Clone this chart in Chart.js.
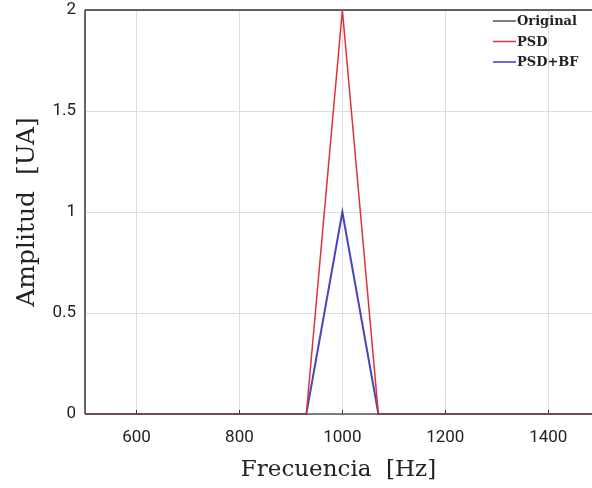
<!DOCTYPE html>
<html>
<head>
<meta charset="utf-8">
<script src="https://cdn.jsdelivr.net/npm/chart.js@4"></script>
<style>
  html, body { margin: 0; padding: 0; background: #fff; }
  #wrap { width: 592px; height: 488px; }
</style>
</head>
<body>
<div id="wrap"><canvas id="chart" width="592" height="488"></canvas></div>
<script>
// frecuencias (Hz) y amplitudes
const freqs     = [500, 930, 1000, 1070, 1485];
const original  = [0, 0, 0, 0, 0];
const psd       = [0, 0, 2, 0, 0];
const psdBf     = [0, 0, 1, 0, 0];
const xTicks    = [600, 800, 1000, 1200, 1400];
const yTicks    = [0, 0.5, 1, 1.5, 2];
const names     = ['Original', 'PSD', 'PSD+BF'];

const toPts = (ys) => freqs.map((f, i) => ({x: f, y: ys[i]}));

// leyenda dentro del area, arriba a la derecha
const innerLegend = {
    id: 'innerLegend',
    afterDraw: (chart) => {
        const {ctx} = chart;
        ctx.save();
        ctx.font = 'bold 13px "DejaVu Serif"';
        ctx.textBaseline = 'middle';
        chart.data.datasets.forEach((ds, i) => {
            const y = 21 + i * 20.5;
            ctx.strokeStyle = ds.legendColor;
            ctx.lineWidth = 1.5;
            ctx.beginPath();
            ctx.moveTo(493, y);
            ctx.lineTo(516, y);
            ctx.stroke();
            ctx.fillStyle = '#222';
            ctx.fillText(ds.label, 517, y + 1);
        });
        ctx.restore();
    }
};

// borde superior y marcas internas
const frame = {
    id: 'frame',
    beforeDatasetsDraw: (chart) => {
        const {ctx, chartArea: {top, bottom, left, right}, scales: {x}} = chart;
        ctx.save();
        ctx.strokeStyle = '#333';
        ctx.lineWidth = 1.5;
        ctx.beginPath();
        ctx.moveTo(left, top);
        ctx.lineTo(right, top);
        ctx.moveTo(left, top);
        ctx.lineTo(left, bottom);
        ctx.stroke();
        ctx.lineWidth = 1;
        xTicks.forEach(v => {
            const px = Math.round(x.getPixelForValue(v)) + 0.5;
            ctx.beginPath();
            ctx.moveTo(px, bottom);
            ctx.lineTo(px, bottom - 4);
            ctx.stroke();
        });
        ctx.restore();
    }
};

new Chart(document.getElementById('chart'), {
    type: 'line',
    data: {
        datasets: [
            { label: names[0], data: toPts(original), borderColor: '#555555', legendColor: '#555555', borderWidth: 1.5, clip: false },
            { label: names[1], data: toPts(psd), borderColor: '#e0303a', legendColor: '#e0303a', borderWidth: 1.5, clip: false },
            { label: names[2], data: toPts(psdBf), borderColor: 'rgba(25,25,170,0.8)', legendColor: '#3a3ad0', borderWidth: 2, clip: false }
        ]
    },
    options: {
        responsive: false,
        animation: false,
        layout: { padding: { top: 10, right: 0, left: 0, bottom: 0 } },
        elements: { point: { radius: 0 }, line: { tension: 0 } },
        scales: {
            x: {
                type: 'linear',
                min: 500,
                max: 1485,
                afterBuildTicks: (s) => { s.ticks = xTicks.map(v => ({value: v})); },
                afterFit: (s) => { s.height = 74; },
                grid: { color: '#dddddd', drawTicks: false },
                border: { display: false },
                ticks: { padding: 14, color: '#222', font: { family: 'Roboto', size: 17 },
                         callback: (v) => String(v) },
                title: {
                    display: true,
                    text: 'Frecuencia  [Hz]',
                    color: '#222',
                    padding: { top: 4 },
                    font: { family: '"DejaVu Serif"', size: 23 }
                }
            },
            y: {
                min: 0,
                max: 2,
                afterBuildTicks: (s) => { s.ticks = yTicks.map(v => ({value: v})); },
                afterFit: (s) => { s.width = 85; s.paddingTop = 0; s.paddingBottom = 0; },
                grid: { color: '#dddddd', drawTicks: false },
                border: { display: false },
                ticks: { padding: 9, color: '#222', font: { family: 'Roboto', size: 17 },
                         callback: (v) => String(v) },
                title: {
                    display: true,
                    text: 'Amplitud  [UA]',
                    color: '#222',
                    padding: { top: 12, bottom: 2 },
                    font: { family: '"DejaVu Serif"', size: 25 }
                }
            }
        },
        plugins: {
            legend: { display: false },
            tooltip: { enabled: false }
        }
    },
    plugins: [frame, innerLegend]
});
</script>
</body>
</html>
